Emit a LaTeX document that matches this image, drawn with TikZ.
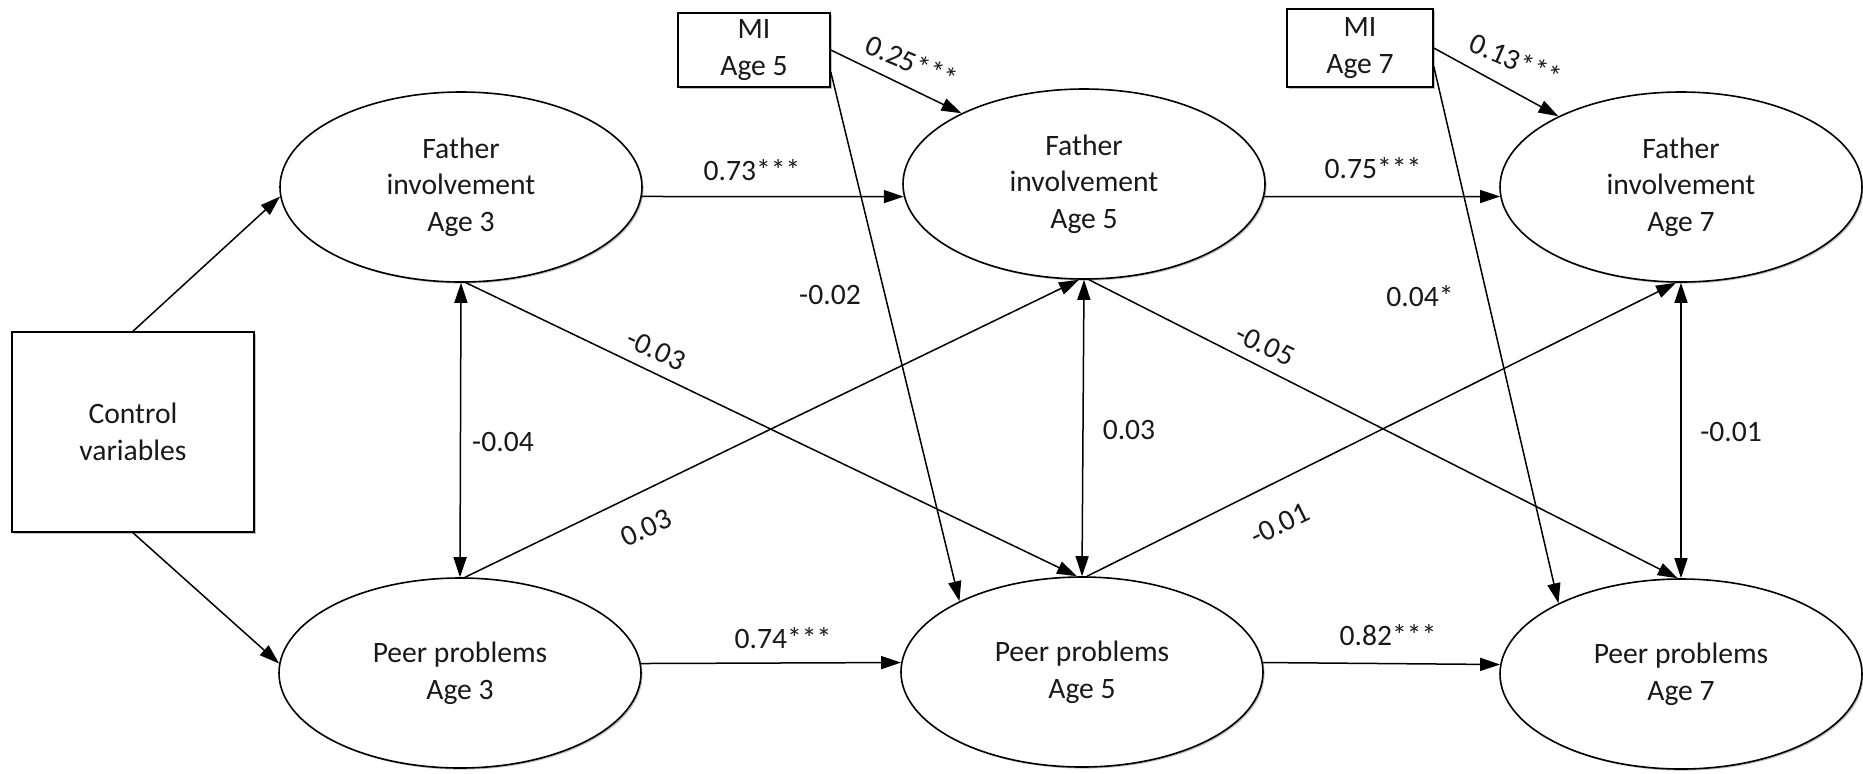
\documentclass[tikz,border=0pt]{standalone}
\usepackage{fontspec}
\setmainfont{Carlito}
\usetikzlibrary{shapes.geometric,arrows.meta,shadows}
\begin{document}
\begin{tikzpicture}[x=0.5pt,y=-0.5pt,
  every node/.style={font=\fontsize{14.8pt}{18.3pt}\selectfont, text=black!90},
  shad/.style={drop shadow={shadow xshift=0.8pt,shadow yshift=-0.8pt,opacity=0.25,fill=black}},
  lat/.style={ellipse, draw, line width=0.8pt, fill=white, shad, minimum width=181pt, minimum height=95pt, inner sep=0pt, align=center},
  obs/.style={rectangle, draw, line width=0.8pt, fill=white, shad, inner sep=0pt, align=center},
  path/.style={draw, line width=0.75pt, -{Triangle[length=10pt,width=6.5pt]}},
  cov/.style={draw, line width=0.75pt, {Triangle[length=10pt,width=6.5pt]}-{Triangle[length=10pt,width=6.5pt]}},
  coef/.style={inner sep=1pt}]
\useasboundingbox (0,0) rectangle (1863,773);
% nodes
\node[obs, minimum width=121pt, minimum height=100pt] (CV) at (133,432) {Control\\variables};
\node[obs, minimum width=76pt, minimum height=37pt] (MI5) at (754,50) {MI\\Age 5};
\node[obs, minimum width=73pt, minimum height=39pt] (MI7) at (1360,48) {MI\\Age 7};
\node[lat] (FA3) at (461,187) {Father\\involvement\\Age 3};
\node[lat] (FA5) at (1084,184) {Father\\involvement\\Age 5};
\node[lat] (FA7) at (1681,187) {Father\\involvement\\Age 7};
\node[lat] (PP3) at (460,673) {Peer problems\\Age 3};
\node[lat] (PP5) at (1082,672) {Peer problems\\Age 5};
\node[lat] (PP7) at (1681,674) {Peer problems\\Age 7};
% control paths
\draw[path] (CV.north) -- (FA3.183);
\draw[path] (CV.south) -- (PP3.177);
% stability paths
\draw[path] (FA3.-3) -- (FA5.184);
\draw[path] (FA5.-4) -- (FA7.183);
\draw[path] (PP3.3) -- (PP5.177);
\draw[path] (PP5.3) -- (PP7.177);
% covariances
\draw[cov] (FA3.south) -- (PP3.north);
\draw[cov] (FA5.south) -- (PP5.north);
\draw[cov] (FA7.south) -- (PP7.north);
% cross-lagged paths
\draw[path] (FA3.-87) -- (PP5.93);
\draw[path] (PP3.87) -- (FA5.-93);
\draw[path] (FA5.-87) -- (PP7.92);
\draw[path] (PP5.87) -- (FA7.-93);
% MI paths
\draw[path] (MI5.east) -- (FA5.150);
\draw[path] (MI5.-16) -- (PP5.150);
\draw[path] (MI7.east) -- (FA7.150);
\draw[path] (MI7.-14) -- (PP7.150);
% coefficients
\node[coef, rotate=-23] (c1) at (912,62) {0.25***};
\node[coef, rotate=-23] (c2) at (1516,60) {0.13***};
\node[coef] (c3) at (752,170) {0.73***};
\node[coef] (c4) at (1373,168) {0.75***};
\node[coef] (c5) at (830,295) {-0.02};
\node[coef] (c6) at (1420,296) {0.04*};
\node[coef, rotate=-25] (c7) at (656,350) {-0.03};
\node[coef, rotate=-26] (c8) at (1265,345) {-0.05};
\node[coef] (c9) at (503,442) {-0.04};
\node[coef] (c10) at (1129,430) {0.03};
\node[coef] (c11) at (1731,432) {-0.01};
\node[coef, rotate=25] (c12) at (646,528) {0.03};
\node[coef, rotate=26] (c13) at (1280,524) {-0.01};
\node[coef] (c14) at (783,638) {0.74***};
\node[coef] (c15) at (1388,635) {0.82***};
\end{tikzpicture}
\end{document}
